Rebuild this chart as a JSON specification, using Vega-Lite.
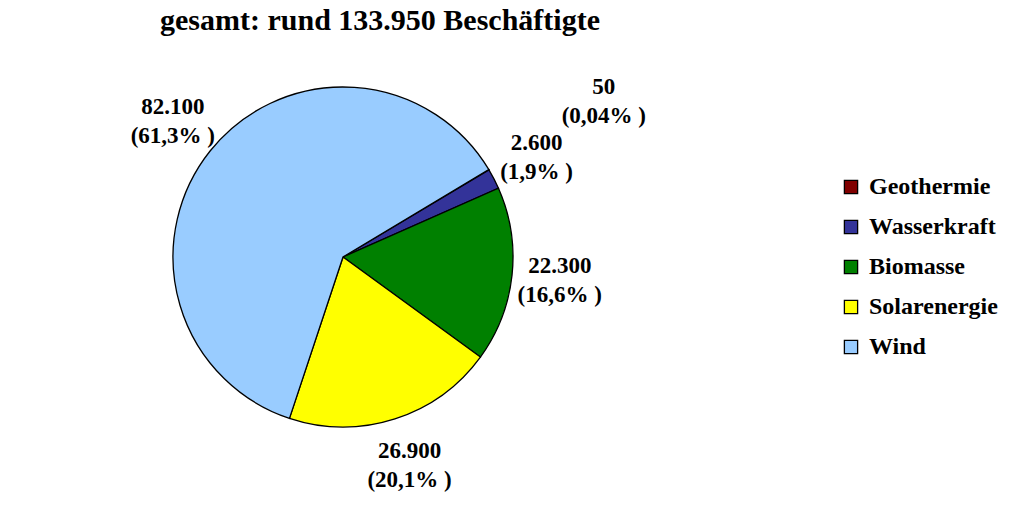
{
  "$schema": "https://vega.github.io/schema/vega-lite/v6.json",
  "width": 676,
  "height": 386,
  "background": "white",
  "title": {
    "text": "gesamt: rund 133.950 Beschäftigte",
    "font": "Liberation Serif",
    "fontSize": 30,
    "fontWeight": "bold",
    "color": "black",
    "dx": 37,
    "offset": 8
  },
  "config": {"view": {"stroke": null}},
  "data": {
    "values": [
      {"cat": "Geothermie", "value": 50, "ord": 1, "label": "50\n(0,04% )"},
      {"cat": "Wasserkraft", "value": 2600, "ord": 2, "label": "2.600\n(1,9% )"},
      {"cat": "Biomasse", "value": 22300, "ord": 3, "label": "22.300\n(16,6% )"},
      {"cat": "Solarenergie", "value": 26900, "ord": 4, "label": "26.900\n(20,1% )"},
      {"cat": "Wind", "value": 82100, "ord": 5, "label": "82.100\n(61,3% )"}
    ]
  },
  "encoding": {
    "theta": {"field": "value", "type": "quantitative", "stack": true, "scale": {"range": [1.03, 7.313]}},
    "order": {"field": "ord", "type": "quantitative"}
  },
  "layer": [
    {
      "mark": {"type": "arc", "outerRadius": 170, "stroke": "black", "strokeWidth": 1.3},
      "encoding": {
        "color": {
          "field": "cat",
          "type": "nominal",
          "sort": null,
          "scale": {
            "domain": ["Geothermie", "Wasserkraft", "Biomasse", "Solarenergie", "Wind"],
            "range": ["#800000", "#333399", "#008000", "#FFFF00", "#99CCFF"]
          },
          "legend": {
            "title": null,
            "orient": "none",
            "legendX": 834,
            "legendY": 111,
            "symbolType": "square",
            "symbolSize": 175,
            "symbolStrokeColor": "black",
            "symbolStrokeWidth": 1.3,
            "symbolOpacity": 1,
            "labelFont": "Liberation Serif",
            "labelFontSize": 24,
            "labelFontWeight": "bold",
            "labelColor": "black",
            "labelOffset": 6,
            "rowPadding": 16,
            "labelLimit": 300
          }
        }
      }
    },
    {
      "mark": {"type": "text", "radius": 218, "font": "Liberation Serif", "fontSize": 23, "fontWeight": "bold", "lineBreak": "\n", "lineHeight": 29, "baseline": "middle", "color": "black", "dy": -14},
      "encoding": {
        "text": {"condition": {"test": "datum.cat === 'Geothermie'", "value": ""}, "field": "label"}
      }
    },
    {
      "mark": {"type": "text", "radius": 290, "font": "Liberation Serif", "fontSize": 23, "fontWeight": "bold", "lineBreak": "\n", "lineHeight": 29, "baseline": "middle", "color": "black", "dx": 12, "dy": -21},
      "encoding": {
        "text": {"condition": {"test": "datum.cat !== 'Geothermie'", "value": ""}, "field": "label"}
      }
    }
  ]
}
